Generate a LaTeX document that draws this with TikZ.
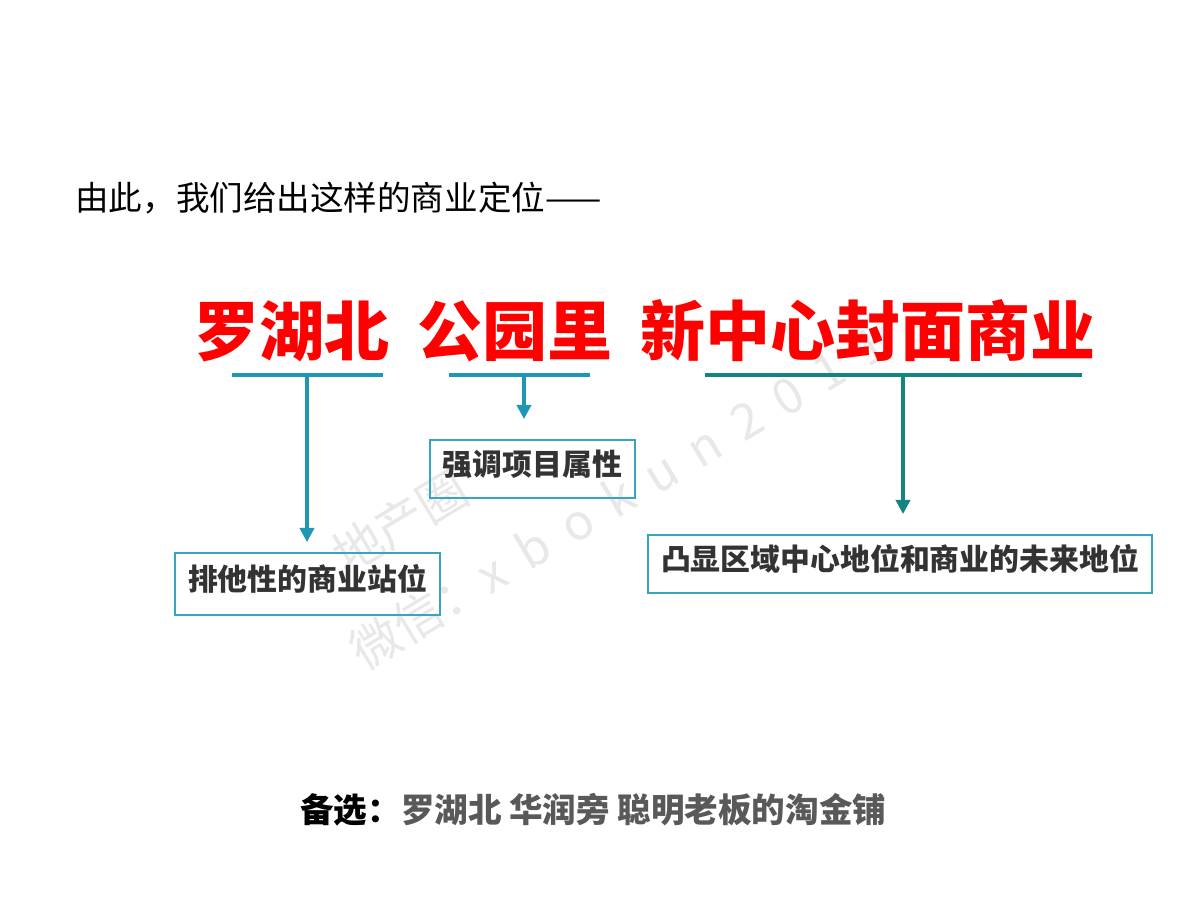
\documentclass[tikz,border=0pt]{standalone}
\usepackage{fontspec}
\setmainfont{Noto Sans CJK SC}
\usepackage{xcolor}
\usepackage{tikz}
\usetikzlibrary{
	positioning,    % posizione relativa dei nodi
	arrows.meta,    % punte Triangle
	calc
}
\definecolor{titlered}{HTML}{FF0000}
\definecolor{barblue}{HTML}{1E96B4}
\definecolor{barteal}{HTML}{148481}
\definecolor{boxcyan}{HTML}{35A6BF}
\definecolor{labelgray}{HTML}{333333}
\definecolor{altgray}{HTML}{595959}
\definecolor{markgray}{HTML}{E8E8E8}

\tikzset{
	titletext/.style={text=titlered, font=\fontsize{37}{40}\selectfont\bfseries, inner sep=0pt, anchor=base},
	bar/.style={line width=2.3pt},
	drop/.style={line width=2pt, -{Triangle[length=8pt,width=8pt]}},
	labelbox/.style={draw=boxcyan, line width=1.1pt, text=labelgray,
		font=\fontsize{17}{20}\selectfont\bfseries, inner xsep=0.26cm,
		text height=0.88em, text depth=0.12em, minimum height=1.16cm},
	markline/.style={text=markgray, font=\fontsize{28}{30}\selectfont, rotate=31, inner sep=0pt}
}
\newcommand{\gap}{\hspace{0.42em}}

\begin{document}
\begin{tikzpicture}[x=0.02cm, y=-0.02cm]
		% cornice della pagina
		\useasboundingbox (0,0) rectangle (1200,900);
		\fill[white] (0,0) rectangle (1200,900);
		
		% --- Filigrana ---
		\node[markline] (mark1) at (400,522) {地产圈};
		\node[markline] (mark2) at (618,497) {微信：x\gap b\gap o\gap k\gap u\gap n\gap 2\gap 0\gap 1\gap 1};
		
		% --- Testo introduttivo ---
		\node[anchor=base west, inner sep=0pt, font=\fontsize{19.1}{22}\selectfont] (intro) at (75,210) {由此，我们给出这样的商业定位——};
		
		% --- Titolo ---
		\node[titletext] (t1) at (292,355) {罗湖北};
		\node[titletext] (t2) at (515,355) {公园里};
		\node[titletext] (t3) at (868,355) {新中心封面商业};
		
		% --- Riquadri ---
		\node[labelbox, minimum height=1.24cm] (b1) at (307.5,584) {排他性的商业站位};
		\node[labelbox] (b2) at (532.5,469) {强调项目属性};
		\node[labelbox] (b3) at (900,564) {凸显区域中心地位和商业的未来地位};
		
		% --- Parentesi sotto il titolo ---
		\coordinate (bar1w) at (232,375);
		\coordinate (bar1e) at (383,375);
		\coordinate (bar1m) at (307,375);
		\coordinate (bar2w) at (449,375);
		\coordinate (bar2e) at (590,375);
		\coordinate (bar2m) at (524,375);
		\coordinate (bar3w) at (705,375);
		\coordinate (bar3e) at (1082,375);
		\coordinate (bar3m) at (903,375);
		
		\draw[bar, barblue] (bar1w) -- (bar1e);
		\draw[bar, barblue] (bar2w) -- (bar2e);
		\draw[bar, barteal] (bar3w) -- (bar3e);
		
		% Frecce verso i riquadri
		\draw[drop, barblue, shorten >=0.2cm] (bar1m) -- (bar1m |- b1.north);
		\draw[drop, barblue, shorten >=0.4cm] (bar2m) -- (bar2m |- b2.north);
		\draw[drop, barteal, shorten >=0.4cm] (bar3m) -- (bar3m |- b3.north);
		
		% --- Alternativa ---
		\node[anchor=base west, inner sep=0pt, font=\fontsize{19.1}{22}\selectfont\bfseries] (alt) at (300,822) {备选：\textcolor{altgray}{罗湖北 华润旁 聪明老板的淘金铺}};
	\end{tikzpicture}
\end{document}
